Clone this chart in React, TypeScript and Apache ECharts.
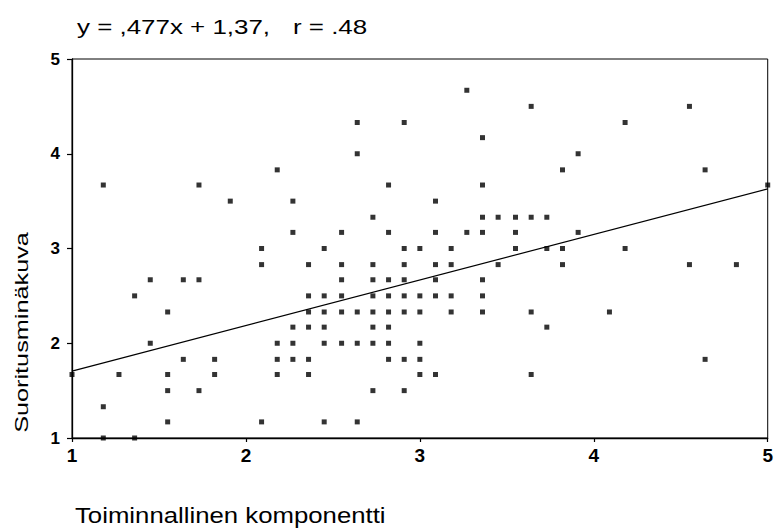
import React, { useEffect, useRef } from "react";
import * as echarts from "echarts";

const titleLeft = "y = ,477x + 1,37,";
const titleRight = "r = .48";
const xAxisName = "Toiminnallinen komponentti";
const yAxisName = "Suoritusminäkuva";
const xTicks = [1, 2, 3, 4, 5];
const yTicks = [1, 2, 3, 4, 5];

// Scatter points (x, y)
const xValues = [
  1.0,
  1.18, 1.18, 1.18,
  1.27,
  1.36, 1.36,
  1.45, 1.45,
  1.55, 1.55, 1.55, 1.55,
  1.64, 1.64,
  1.73, 1.73, 1.73,
  1.82, 1.82,
  1.91,
  2.09, 2.09, 2.09,
  2.18, 2.18, 2.18, 2.18,
  2.27, 2.27, 2.27, 2.27, 2.27,
  2.36, 2.36, 2.36, 2.36, 2.36, 2.36,
  2.45, 2.45, 2.45, 2.45, 2.45, 2.45,
  2.55, 2.55, 2.55, 2.55, 2.55, 2.55,
  2.64, 2.64, 2.64, 2.64, 2.64,
  2.73, 2.73, 2.73, 2.73, 2.73, 2.73, 2.73, 2.73,
  2.82, 2.82, 2.82, 2.82, 2.82, 2.82, 2.82, 2.82,
  2.91, 2.91, 2.91, 2.91, 2.91, 2.91, 2.91, 2.91,
  3.0, 3.0, 3.0, 3.0, 3.0, 3.0,
  3.09, 3.09, 3.09, 3.09, 3.09, 3.09,
  3.18, 3.18, 3.18, 3.18,
  3.27, 3.27,
  3.36, 3.36, 3.36, 3.36, 3.36, 3.36, 3.36,
  3.45, 3.45,
  3.55, 3.55, 3.55,
  3.64, 3.64, 3.64, 3.64,
  3.73, 3.73, 3.73,
  3.82, 3.82, 3.82,
  3.91, 3.91,
  4.09,
  4.18, 4.18,
  4.55, 4.55,
  4.64, 4.64,
  4.82,
  5.0,
];
const yValues = [
  1.67,
  3.67, 1.33, 1.0,
  1.67,
  2.5, 1.0,
  2.67, 2.0,
  2.33, 1.67, 1.5, 1.17,
  2.67, 1.83,
  3.67, 2.67, 1.5,
  1.83, 1.67,
  3.5,
  3.0, 2.83, 1.17,
  3.83, 2.0, 1.83, 1.67,
  3.5, 3.17, 2.17, 2.0, 1.83,
  2.83, 2.5, 2.33, 2.17, 1.83, 1.67,
  3.0, 2.5, 2.33, 2.17, 2.0, 1.17,
  3.17, 2.83, 2.67, 2.5, 2.33, 2.0,
  4.33, 4.0, 2.33, 2.0, 1.17,
  3.33, 2.83, 2.67, 2.5, 2.33, 2.17, 2.0, 1.5,
  3.67, 3.17, 2.67, 2.5, 2.33, 2.17, 2.0, 1.83,
  4.33, 3.0, 2.83, 2.67, 2.5, 2.33, 1.83, 1.5,
  3.0, 2.5, 2.33, 2.0, 1.83, 1.67,
  3.5, 3.17, 2.83, 2.67, 2.5, 1.67,
  3.0, 2.83, 2.5, 2.33,
  4.67, 3.17,
  4.17, 3.67, 3.33, 3.17, 2.67, 2.5, 2.33,
  3.33, 2.83,
  3.33, 3.17, 3.0,
  4.5, 3.33, 2.33, 1.67,
  3.33, 3.0, 2.17,
  3.83, 3.0, 2.83,
  4.0, 3.17,
  2.33,
  4.33, 3.0,
  4.5, 2.83,
  3.83, 1.83,
  2.83,
  3.67,
];

// Fitted line as drawn
const fitX = [1, 5];
const fitY = [1.705, 3.63];

export default function App() {
  const ref = useRef<HTMLDivElement>(null);
  useEffect(() => {
    const chart = echarts.init(ref.current!, null, { renderer: "svg" });
    const font = "'Liberation Sans', Arial, Helvetica, sans-serif";
    chart.setOption({
      animation: false,
      backgroundColor: "#ffffff",
      grid: {
        left: 72,
        right: 5,
        top: 59,
        bottom: 92,
        show: true,
        borderColor: "#000",
        borderWidth: 1,
        backgroundColor: "transparent",
      },
      xAxis: {
        type: "value",
        min: xTicks[0],
        max: xTicks[xTicks.length - 1],
        interval: 1,
        axisLine: { show: true, onZero: false, lineStyle: { color: "#000", width: 1.3 } },
        axisTick: { show: true, length: 4, lineStyle: { color: "#000", width: 1.2 } },
        axisLabel: {
          color: "#000",
          fontSize: 19,
          fontWeight: "bold",
          fontFamily: font,
          margin: 8,
          showMinLabel: true,
          showMaxLabel: true,
        },
        splitLine: { show: false },
      },
      yAxis: {
        type: "value",
        min: yTicks[0],
        max: yTicks[yTicks.length - 1],
        interval: 1,
        axisLine: { show: true, onZero: false, lineStyle: { color: "#000", width: 1.3 } },
        axisTick: { show: true, length: 5, lineStyle: { color: "#000", width: 1.2 } },
        axisLabel: {
          color: "#000",
          fontSize: 17,
          fontWeight: "bold",
          fontFamily: font,
          margin: 12,
          showMinLabel: true,
          showMaxLabel: true,
        },
        splitLine: { show: false },
      },
      series: [
        {
          type: "scatter",
          data: xValues.map((x, i) => [x, yValues[i]]),
          symbol: "rect",
          symbolSize: 5,
          itemStyle: { color: "#000" },
          clip: false,
          silent: true,
        },
        {
          type: "line",
          data: fitX.map((x, i) => [x, fitY[i]]),
          symbol: "none",
          lineStyle: { color: "#000", width: 1.2 },
          silent: true,
        },
      ],
      graphic: [
        {
          type: "text",
          x: 77,
          y: 26.5,
          scaleX: 1.235,
          style: {
            text: titleLeft,
            fontSize: 21,
            fontFamily: font,
            fill: "#000",
            align: "left",
            verticalAlign: "middle",
          },
        },
        {
          type: "text",
          x: 293,
          y: 26.5,
          scaleX: 1.235,
          style: {
            text: titleRight,
            fontSize: 21,
            fontFamily: font,
            fill: "#000",
            align: "left",
            verticalAlign: "middle",
          },
        },
        {
          type: "text",
          x: 75,
          y: 514.5,
          scaleX: 1.12,
          style: {
            text: xAxisName,
            fontSize: 23,
            fontFamily: font,
            fill: "#000",
            align: "left",
            verticalAlign: "middle",
          },
        },
        {
          type: "text",
          x: 21.7,
          y: 332.5,
          rotation: Math.PI / 2,
          scaleX: 1.33,
          style: {
            text: yAxisName,
            fontSize: 19,
            fontFamily: font,
            fill: "#000",
            align: "center",
            verticalAlign: "middle",
          },
        },
      ],
    });
    return () => chart.dispose();
  }, []);
  return (
    <div
      ref={ref}
      style={{ position: "fixed", left: 0, top: 0, width: 776, height: 530 }}
    />
  );
}
